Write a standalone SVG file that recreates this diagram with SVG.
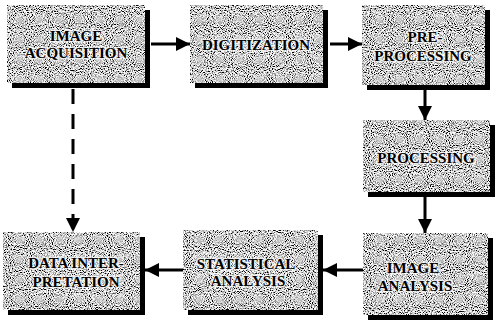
<svg xmlns="http://www.w3.org/2000/svg" width="498" height="324" viewBox="0 0 498 324">
  <style>
    .shadow { fill: #000; }
    .box { fill: #a9a9a9; filter: url(#grain); }
    .lbl { font-family: "Liberation Serif", "Times New Roman", serif; font-weight: bold; font-size: 15px; fill: #000; text-anchor: middle; stroke: #fff; stroke-width: 2.5; stroke-opacity: 0.7; paint-order: stroke; }
    .line { stroke: #000; stroke-width: 3; fill: none; }
    .dash { stroke-dasharray: 15 10; }
  </style>
  <defs>
    <!-- speckled grey paper texture for the boxes -->
    <filter id="grain" x="0" y="0" width="100%" height="100%">
      <feTurbulence type="fractalNoise" baseFrequency="0.95" numOctaves="1" seed="7" result="n"/>
      <feColorMatrix in="n" type="matrix" values="3.6 0 0 0 -1.2  3.6 0 0 0 -1.2  3.6 0 0 0 -1.2  0 0 0 0 1" result="g"/>
      <feComposite in="g" in2="SourceGraphic" operator="in"/>
    </filter>
    <marker id="head" viewBox="0 0 10 10" refX="10" refY="5" markerWidth="4.8" markerHeight="4.8" orient="auto" markerUnits="strokeWidth">
      <path d="M0,0 L10,5 L0,10 Z" fill="#000"/>
    </marker>
  </defs>

  <g id="connectors">
    <line class="line" x1="151" y1="44" x2="190" y2="44" marker-end="url(#head)"/>
    <line class="line" x1="330" y1="44" x2="362" y2="44" marker-end="url(#head)"/>
    <line class="line" x1="425" y1="90" x2="425" y2="120" marker-end="url(#head)"/>
    <line class="line" x1="425" y1="197" x2="425" y2="233" marker-end="url(#head)"/>
    <line class="line" x1="363" y1="270" x2="323" y2="270" marker-end="url(#head)"/>
    <line class="line" x1="183" y1="270" x2="145" y2="270" marker-end="url(#head)"/>
    <line class="line dash" x1="73" y1="89" x2="73" y2="232" marker-end="url(#head)"/>
  </g>

  <g id="image-acquisition">
    <rect class="shadow" x="12" y="10" width="138" height="78"/>
    <rect class="box" x="7" y="5" width="138" height="78"/>
    <text class="lbl" x="76" y="41">IMAGE</text>
    <text class="lbl" x="76" y="58">ACQUISITION</text>
  </g>

  <g id="digitization">
    <rect class="shadow" x="195" y="10" width="133" height="78"/>
    <rect class="box" x="190" y="5" width="133" height="78"/>
    <text class="lbl" x="256" y="50">DIGITIZATION</text>
  </g>

  <g id="pre-processing">
    <rect class="shadow" x="367" y="10" width="123" height="80"/>
    <rect class="box" x="362" y="5" width="123" height="80"/>
    <text class="lbl" x="425" y="42">PRE-</text>
    <text class="lbl" x="423" y="61">PROCESSING</text>
  </g>

  <g id="processing">
    <rect class="shadow" x="368" y="125" width="127" height="72"/>
    <rect class="box" x="363" y="120" width="127" height="72"/>
    <text class="lbl" x="426" y="163">PROCESSING</text>
  </g>

  <g id="image-analysis">
    <rect class="shadow" x="368" y="238" width="125" height="82"/>
    <rect class="box" x="363" y="233" width="125" height="82"/>
    <text class="lbl" x="413" y="273">IMAGE</text>
    <text class="lbl" x="415" y="291">ANALYSIS</text>
  </g>

  <g id="statistical-analysis">
    <rect class="shadow" x="188" y="235" width="135" height="80"/>
    <rect class="box" x="183" y="230" width="135" height="80"/>
    <text class="lbl" x="246" y="269">STATISTICAL</text>
    <text class="lbl" x="248" y="286">ANALYSIS</text>
  </g>

  <g id="data-interpretation">
    <rect class="shadow" x="8" y="237" width="137" height="78"/>
    <rect class="box" x="3" y="232" width="137" height="78"/>
    <text class="lbl" x="76" y="268">DATA INTER-</text>
    <text class="lbl" x="76" y="287">PRETATION</text>
  </g>
</svg>
